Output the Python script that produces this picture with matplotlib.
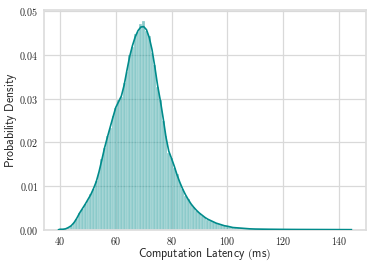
import matplotlib
matplotlib.use("Agg")
import matplotlib.pyplot as plt
from matplotlib.ticker import FuncFormatter

plt.rcParams['mathtext.fontset'] = 'cm'

# Histogram (density) : bin centers 40..144 ms, width 1 ms
hist_centers = list(range(40, 145))
hist_density = [
    0.0001, 0.0001, 0.0002, 0.0005, 0.0009, 0.0017, 0.0025, 0.0039, 0.0047, 0.0059,   # 40-49
    0.0068, 0.0082, 0.0093, 0.0112, 0.0131, 0.0162, 0.0186, 0.0215, 0.0233, 0.0261,   # 50-59
    0.0278, 0.0296, 0.0303, 0.0335, 0.0362, 0.0401, 0.0418, 0.0448, 0.0452, 0.0470,   # 60-69
    0.0478, 0.0455, 0.0444, 0.0405, 0.0378, 0.0326, 0.0298, 0.0250, 0.0214, 0.0176,   # 70-79
    0.0165, 0.0142, 0.0127, 0.0106, 0.0094, 0.0078, 0.0070, 0.0058, 0.0052, 0.0043,   # 80-89
    0.0039, 0.0032, 0.0029, 0.0023, 0.0021, 0.0017, 0.0015, 0.0012, 0.0011, 0.0009,   # 90-99
    0.0008, 0.0006, 0.0005, 0.0005, 0.0004, 0.0003, 0.0003, 0.0002, 0.0002, 0.0002,   # 100-109
    0.0001, 0.0001, 0.0001, 0.0001, 0.0001, 0.0001, 0.0001, 0.0001, 0.00008, 0.00007, # 110-119
    0.00007, 0.00006, 0.00006, 0.00005, 0.00005, 0.00005, 0.00004, 0.00004, 0.00004, 0.00004,  # 120-129
    0.00003, 0.00003, 0.00003, 0.00003, 0.00003, 0.00002, 0.00002, 0.00002, 0.00002, 0.00002,  # 130-139
    0.00002, 0.00001, 0.00001, 0.00001, 0.00001,                                         # 140-144
]

# KDE curve
kde_x = [39.5, 40, 41, 42, 43, 44, 45, 46, 47, 48, 49, 50, 51, 52, 53, 54, 55, 56, 57, 58, 59,
         60, 61, 62, 63, 64, 65, 66, 67, 68, 69, 70, 71, 72, 73, 74, 75, 76, 77, 78, 79,
         80, 81, 82, 83, 84, 85, 86, 87, 88, 89, 90, 91, 92, 93, 94, 95, 96, 97, 98, 99,
         100, 102, 104, 106, 108, 110, 115, 120, 125, 130, 135, 140, 144.5]
kde_y = [0.0000, 0.0001, 0.0001, 0.0002, 0.0005, 0.0009, 0.0016, 0.0026, 0.0038, 0.0048, 0.0058,
         0.0069, 0.0080, 0.0094, 0.0110, 0.0133, 0.0160, 0.0188, 0.0212, 0.0235, 0.0258,
         0.0280, 0.0293, 0.0306, 0.0331, 0.0365, 0.0397, 0.0422, 0.0442, 0.0456, 0.0464,
         0.0465, 0.0458, 0.0440, 0.0412, 0.0373, 0.0330, 0.0295, 0.0255, 0.0212, 0.0180,
         0.0163, 0.0145, 0.0125, 0.0108, 0.0093, 0.0080, 0.0069, 0.0059, 0.0051, 0.0044,
         0.0038, 0.0033, 0.0028, 0.0024, 0.0021, 0.0018, 0.0015, 0.0013, 0.0011, 0.0009,
         0.0008, 0.0005, 0.0004, 0.0003, 0.0002, 0.00015, 0.0001, 0.00007, 0.00005, 0.00004,
         0.00003, 0.00002, 0.00001]

x_ticks = [40, 60, 80, 100, 120, 140]
y_ticks = [0.00, 0.01, 0.02, 0.03, 0.04, 0.05]

fig = plt.figure(figsize=(3.74, 2.67), dpi=100)
ax = fig.add_axes([44/374, 1-229.7/267, (366-44)/374, (229.7-10)/267])

line_color = '#008b8b'
ax.bar(hist_centers, hist_density, width=1.0, color=(0.0, 0.545, 0.545, 0.45),
       edgecolor=(1, 1, 1, 0.6), linewidth=0.3, zorder=2)
ax.plot(kde_x, kde_y, color=line_color, lw=1.2, zorder=3)

ax.set_xlim(34.25, 149.75)
ax.set_ylim(0, 0.0503)
ax.set_xticks(x_ticks)
ax.set_yticks(y_ticks)
ax.xaxis.set_major_formatter(FuncFormatter(lambda v, p: r'$%d$' % v))
ax.yaxis.set_major_formatter(FuncFormatter(lambda v, p: r'$%.2f$' % v))
ax.tick_params(axis='both', length=0, labelsize=7.2, labelcolor='#262626')
ax.tick_params(axis='x', pad=4)
ax.tick_params(axis='y', pad=3.8)

ax.grid(True, color='#d9d9d9', lw=0.9, zorder=0)
ax.set_axisbelow(True)
for s in ax.spines.values():
    s.set_color('#dddddd')
    s.set_linewidth(1.25)

ax.set_xlabel(r'$\mathsf{Computation\ Latency\ (ms)}$', fontsize=8.5, color='#262626',
              va='top', ha='center')
ax.set_ylabel(r'$\mathsf{Probability\ Density}$', fontsize=8.5, color='#262626',
              va='center', ha='center')
ax.xaxis.set_label_coords(0.5, (229.7 - 246.5) / 219.7)
ax.yaxis.set_label_coords((11.5 - 44) / 322, 0.5)

fig.savefig('out.png', dpi=100)
